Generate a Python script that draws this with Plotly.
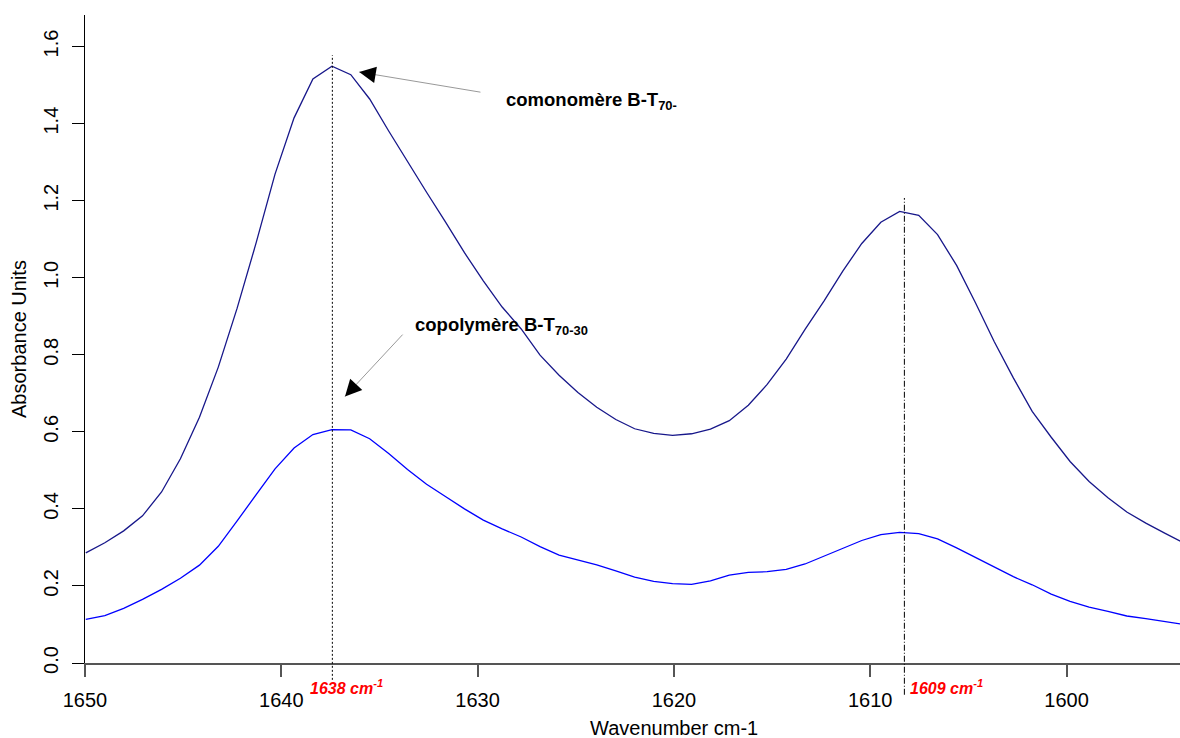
import plotly.graph_objects as go

# ---- data ----
wavenumber = [1649.96, 1648.99, 1648.03, 1647.07, 1646.10, 1645.14, 1644.17, 1643.21, 1642.25, 1641.28,
              1640.32, 1639.35, 1638.39, 1637.42, 1636.46, 1635.50, 1634.53, 1633.57, 1632.60, 1631.64,
              1630.67, 1629.71, 1628.75, 1627.78, 1626.82, 1625.85, 1624.89, 1623.93, 1622.96, 1622.00,
              1621.03, 1620.07, 1619.10, 1618.14, 1617.18, 1616.21, 1615.25, 1614.28, 1613.32, 1612.35,
              1611.39, 1610.43, 1609.46, 1608.50, 1607.53, 1606.57, 1605.60, 1604.64, 1603.68, 1602.71,
              1601.75, 1600.78, 1599.82, 1598.85, 1597.89, 1596.93, 1595.96, 1595.00, 1594.03]

comonomere = [0.286, 0.312, 0.343, 0.382, 0.444, 0.530, 0.638, 0.768, 0.921, 1.091,
              1.269, 1.415, 1.516, 1.549, 1.527, 1.464, 1.381, 1.301, 1.222, 1.145,
              1.065, 0.992, 0.924, 0.867, 0.799, 0.747, 0.702, 0.664, 0.632, 0.608,
              0.596, 0.591, 0.595, 0.607, 0.629, 0.669, 0.723, 0.789, 0.866, 0.940,
              1.018, 1.089, 1.144, 1.172, 1.162, 1.112, 1.032, 0.935, 0.834, 0.740,
              0.653, 0.586, 0.523, 0.471, 0.429, 0.392, 0.363, 0.337, 0.312]

copolymere = [0.113, 0.123, 0.142, 0.165, 0.191, 0.220, 0.254, 0.303, 0.369, 0.437,
              0.504, 0.558, 0.593, 0.606, 0.605, 0.582, 0.544, 0.502, 0.464, 0.432,
              0.400, 0.371, 0.348, 0.327, 0.302, 0.280, 0.267, 0.255, 0.239, 0.223,
              0.212, 0.206, 0.204, 0.213, 0.228, 0.235, 0.237, 0.243, 0.257, 0.278,
              0.297, 0.318, 0.333, 0.339, 0.336, 0.322, 0.299, 0.274, 0.248, 0.224,
              0.203, 0.179, 0.160, 0.145, 0.134, 0.122, 0.115, 0.107, 0.100]

peak_positions = [1637.4, 1608.26]
peak_labels = ["1638 cm<sup>-1</sup>", "1609 cm<sup>-1</sup>"]
x_ticks = [1650, 1640, 1630, 1620, 1610, 1600]
y_ticks = [0.0, 0.2, 0.4, 0.6, 0.8, 1.0, 1.2, 1.4, 1.6]

FONT = "Liberation Sans, Arial, Helvetica, sans-serif"

fig = go.Figure()
fig.add_trace(go.Scatter(x=wavenumber, y=comonomere, mode="lines",
                         line=dict(color="#17178a", width=1.3), name="comonomère"))
fig.add_trace(go.Scatter(x=wavenumber, y=copolymere, mode="lines",
                         line=dict(color="#0000ff", width=1.3), name="copolymère"))

# vertical marker lines
line_styles = ["2px,2px", "6px,2px,1px,2px"]
line_tops = [0.938, 0.7176]
line_bottoms = [-0.026, -0.049]
for pos, dash, top, bot in zip(peak_positions, line_styles, line_tops, line_bottoms):
    fig.add_shape(type="line", xref="x", yref="paper", x0=pos, x1=pos, y0=bot, y1=top,
                  line=dict(color="black", width=1, dash=dash))

annotations = []
# red peak labels
label_left = [1638.64, 1608.07]
for xl, txt in zip(label_left, peak_labels):
    annotations.append(dict(xref="x", yref="paper", x=xl, y=-0.0375, xanchor="left", yanchor="middle",
                            text="<b><i>" + txt + "</i></b>", showarrow=False,
                            font=dict(family=FONT, size=16, color="red")))

# arrows: gray shaft + black head
arrows = [dict(x=1636.03, y=1.534, ax=122.7, ay=20.4, hx=14.8, hy=2.5),
          dict(x=1636.755, y=0.6917, ax=59, ay=-63.4, hx=10.2, hy=-11.0)]
for a in arrows:
    annotations.append(dict(xref="x", yref="y", x=a["x"], y=a["y"], ax=a["ax"], ay=a["ay"],
                            text="", showarrow=True, arrowhead=0, arrowwidth=1, arrowcolor="#999999"))
    annotations.append(dict(xref="x", yref="y", x=a["x"], y=a["y"], ax=a["hx"], ay=a["hy"],
                            text="", showarrow=True, arrowhead=2, arrowsize=3.3, arrowwidth=1,
                            arrowcolor="black"))

annotations.append(dict(xref="x", yref="y", x=1628.66, y=1.460, xanchor="left", yanchor="middle",
                        text="<b>comonomère B-T<sub>70-</sub></b>", showarrow=False,
                        font=dict(family=FONT, size=18.5, color="black")))
annotations.append(dict(xref="x", yref="y", x=1633.29, y=0.875, xanchor="left", yanchor="middle",
                        text="<b>copolymère B-T<sub>70-30</sub></b>", showarrow=False,
                        font=dict(family=FONT, size=18.5, color="black")))

# axis titles
annotations.append(dict(xref="paper", yref="paper", x=0.538, y=-0.1003, xanchor="center", yanchor="middle",
                        text="Wavenumber cm-1", showarrow=False, font=dict(family=FONT, size=20, color="black")))
annotations.append(dict(xref="paper", yref="paper", x=-0.0603, y=0.5, xanchor="center", yanchor="middle",
                        text="Absorbance Units", textangle=-90, showarrow=False,
                        font=dict(family=FONT, size=20, color="black")))

fig.update_layout(
    width=1180, height=738,
    margin=dict(l=85, r=0, t=15, b=75, autoexpand=False),
    plot_bgcolor="white", paper_bgcolor="white",
    showlegend=False,
    font=dict(family=FONT, color="black"),
    annotations=annotations,
    xaxis=dict(range=[1650, 1594.22], tickvals=x_ticks, ticktext=[str(v) for v in x_ticks],
               ticks="outside", ticklen=12, tickwidth=2, tickcolor="#555555",
               showline=True, linecolor="#555555", linewidth=2, automargin=False,
               ticklabelstandoff=6,
               showgrid=False, zeroline=False, tickfont=dict(family=FONT, size=20, color="black")),
    yaxis=dict(range=[0, 1.682], tickvals=y_ticks, ticktext=["%.1f" % v for v in y_ticks],
               tickangle=-90, ticks="outside", ticklen=12, tickwidth=1, tickcolor="black",
               showline=True, linecolor="black", linewidth=1, automargin=False,
               ticklabelstandoff=6,
               showgrid=False, zeroline=False, tickfont=dict(family=FONT, size=20, color="black")),
)

fig.write_html("out.html", config={"displayModeBar": False},
               post_script="document.body.style.margin='0';document.body.style.overflow='hidden';")
